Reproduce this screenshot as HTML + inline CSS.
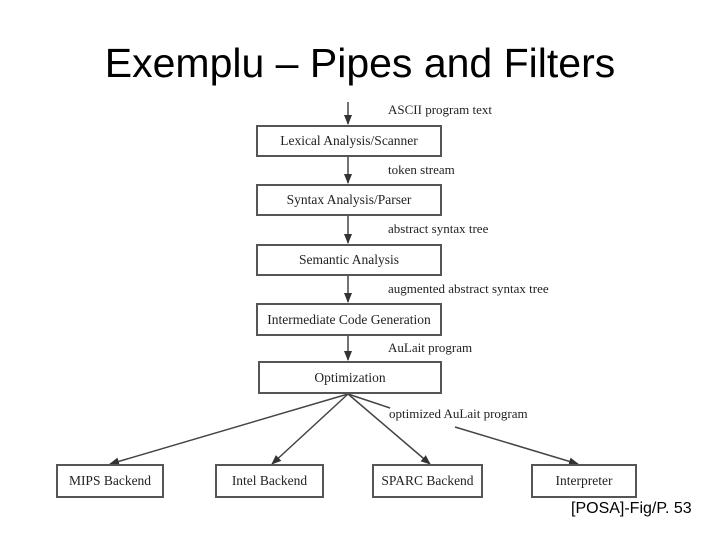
<!DOCTYPE html>
<html><head><style>
body{margin:0;width:720px;height:540px;background:#fff;overflow:hidden;position:relative;font-family:"Liberation Serif",serif}
.t{position:absolute;left:0;width:720px;top:40px;text-align:center;font-family:"Liberation Sans",sans-serif;font-size:41px;color:#000}
.b{position:absolute;border:2px solid #555;box-sizing:border-box;text-align:center;font-size:13.5px;color:#222;background:#fff}
.l{position:absolute;font-size:13px;color:#222;white-space:nowrap}
.r{position:absolute;left:571px;top:500px;font-family:"Liberation Sans",sans-serif;font-size:16px}
</style></head><body>
<div class="t">Exemplu – Pipes and Filters</div>
<svg width="720" height="540" style="position:absolute;left:0;top:0">
<defs><marker id="a" markerWidth="10" markerHeight="10" refX="9" refY="5" orient="auto" markerUnits="userSpaceOnUse"><path d="M0,1 L10,5 L0,9 z" fill="#333"/></marker></defs>
<g stroke="#444" stroke-width="1.5" fill="none">
<line x1="348" y1="102" x2="348" y2="124" marker-end="url(#a)"/>
<line x1="348" y1="157" x2="348" y2="183" marker-end="url(#a)"/>
<line x1="348" y1="216" x2="348" y2="243" marker-end="url(#a)"/>
<line x1="348" y1="276" x2="348" y2="302" marker-end="url(#a)"/>
<line x1="348" y1="336" x2="348" y2="360" marker-end="url(#a)"/>
<line x1="348" y1="394" x2="110" y2="464" marker-end="url(#a)"/>
<line x1="348" y1="394" x2="272" y2="464" marker-end="url(#a)"/>
<line x1="348" y1="394" x2="430" y2="464" marker-end="url(#a)"/>
<line x1="348" y1="394" x2="390" y2="408"/>
<line x1="455" y1="427" x2="578" y2="464" marker-end="url(#a)"/>
</g></svg>
<div class="b" style="left:256px;top:125px;width:186px;height:32px;line-height:28px">Lexical Analysis/Scanner</div>
<div class="b" style="left:256px;top:184px;width:186px;height:32px;line-height:28px">Syntax Analysis/Parser</div>
<div class="b" style="left:256px;top:244px;width:186px;height:32px;line-height:28px">Semantic Analysis</div>
<div class="b" style="left:256px;top:303px;width:186px;height:33px;line-height:29px">Intermediate Code Generation</div>
<div class="b" style="left:258px;top:361px;width:184px;height:33px;line-height:29px">Optimization</div>
<div class="b" style="left:56px;top:464px;width:108px;height:34px;line-height:30px">MIPS Backend</div>
<div class="b" style="left:215px;top:464px;width:109px;height:34px;line-height:30px">Intel Backend</div>
<div class="b" style="left:372px;top:464px;width:111px;height:34px;line-height:30px">SPARC Backend</div>
<div class="b" style="left:531px;top:464px;width:106px;height:34px;line-height:30px">Interpreter</div>
<div class="l" style="left:388px;top:102px">ASCII program text</div>
<div class="l" style="left:388px;top:162px">token stream</div>
<div class="l" style="left:388px;top:221px">abstract syntax tree</div>
<div class="l" style="left:388px;top:281px">augmented abstract syntax tree</div>
<div class="l" style="left:388px;top:340px">AuLait program</div>
<div class="l" style="left:389px;top:406px">optimized AuLait program</div>
<div class="r">[POSA]-Fig/P. 53</div>
</body></html>
